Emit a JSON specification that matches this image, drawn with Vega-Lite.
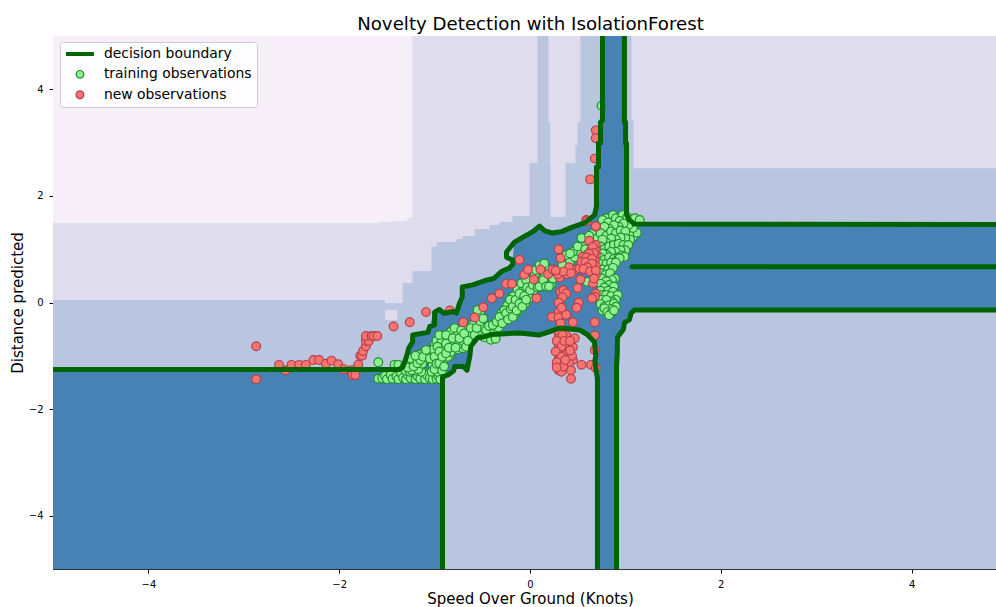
{"$schema":"https://vega.github.io/schema/vega-lite/v6.json","width":943,"height":533,"autosize":{"type":"none"},"padding":{"left":53,"top":36,"right":0,"bottom":38},"background":"white",
"config":{"font":"DejaVu Sans","view":{"stroke":"#333","strokeWidth":1},"axis":{"grid":false,"labelFont":"DejaVu Sans","titleFont":"DejaVu Sans","labelFontSize":10,"titleFontSize":15,"titleFontWeight":"normal","labelColor":"#000","titleColor":"#000","tickColor":"#000","domainColor":"#333","tickSize":4,"labelPadding":6,"labelFlush":false}},
"title":{"text":"Novelty Detection with IsolationForest","font":"DejaVu Sans","fontSize":18.2,"fontWeight":"normal","color":"#000","anchor":"middle","dx":6,"offset":2},
"datasets":{
"bg":[{"a":-5,"b":4.885,"c":5,"d":-5,"l":"base"},
{"a":-1.52,"b":-1.336,"c":0.05,"d":-0.01,"l":"lav"},{"a":-1.52,"b":-1.39,"c":-0.14,"d":-0.33,"l":"lav"},{"a":-5,"b":-1.336,"c":5,"d":0.047,"l":"lav"},{"a":-5,"b":-1.232,"c":5,"d":0.366,"l":"lav"},{"a":-5,"b":-1.033,"c":5,"d":0.59,"l":"lav"},{"a":-5,"b":-0.98,"c":5,"d":1.04,"l":"lav"},{"a":-5,"b":-0.77,"c":5,"d":1.134,"l":"lav"},{"a":-5,"b":-0.708,"c":5,"d":1.19,"l":"lav"},{"a":-5,"b":-0.582,"c":5,"d":1.246,"l":"lav"},{"a":-5,"b":-0.425,"c":5,"d":1.378,"l":"lav"},{"a":-5,"b":-0.32,"c":5,"d":1.453,"l":"lav"},{"a":-5,"b":-0.183,"c":5,"d":1.509,"l":"lav"},{"a":-5,"b":-0.005,"c":5,"d":1.621,"l":"lav"},{"a":-5,"b":0.079,"c":5,"d":2.615,"l":"lav"},{"a":0.194,"b":0.529,"c":5,"d":3.383,"l":"lav"},{"a":0.215,"b":0.498,"c":5,"d":2.952,"l":"lav"},{"a":0.215,"b":0.477,"c":5,"d":2.615,"l":"lav"},{"a":0.215,"b":0.372,"c":5,"d":1.603,"l":"lav"},{"a":1.064,"b":4.885,"c":5,"d":3.42,"l":"lav"},{"a":1.085,"b":4.885,"c":5,"d":2.521,"l":"lav"},
{"a":-5,"b":-1.232,"c":5,"d":1.584,"l":"pale"},{"a":-5,"b":-1.284,"c":5,"d":1.53,"l":"pale"},{"a":-5,"b":-1.42,"c":5,"d":1.509,"l":"pale"},{"a":-5,"b":-1.578,"c":5,"d":1.49,"l":"pale"}],
"blue":[{"x":-5,"t":-1.256,"u":-5},{"x":-1.37,"t":-1.256,"u":-5},{"x":-1.295,"t":-1.02,"u":-5},{"x":-1.23,"t":-0.61,"u":-5},{"x":-1.07,"t":-0.515,"u":-5},{"x":-1.0,"t":-0.18,"u":-5},{"x":-0.917,"t":-0.19,"u":-5},{"x":-0.917,"t":-0.19,"u":-1.396},{"x":-0.791,"t":-0.2,"u":-1.209},{"x":-0.77,"t":-0.2,"u":-1.21},{"x":-0.71,"t":0.29,"u":-1.24},{"x":-0.655,"t":0.33,"u":-1.265},{"x":-0.613,"t":0.36,"u":-0.834},{"x":-0.529,"t":0.38,"u":-0.647},{"x":-0.456,"t":0.42,"u":-0.62},{"x":-0.215,"t":0.647,"u":-0.58},{"x":-0.183,"t":0.797,"u":-0.575},{"x":-0.162,"t":1.134,"u":-0.572},{"x":0.1,"t":1.434,"u":-0.609},{"x":0.236,"t":1.303,"u":-0.52},{"x":0.309,"t":1.33,"u":-0.478},{"x":0.445,"t":1.415,"u":-0.5},{"x":0.519,"t":1.5,"u":-0.515},{"x":0.676,"t":1.64,"u":-0.74},{"x":0.697,"t":2.54,"u":-1.32},{"x":0.707,"t":2.8,"u":-1.827},{"x":0.707,"t":2.8,"u":-5},{"x":0.718,"t":2.99,"u":-5},{"x":0.739,"t":3.383,"u":-5},{"x":0.76,"t":5,"u":-5},{"x":0.907,"t":5,"u":-5},{"x":0.907,"t":5,"u":-1.209},{"x":0.917,"t":5,"u":-0.647},{"x":0.99,"t":5,"u":-0.384},{"x":0.99,"t":3.383,"u":-0.384},{"x":1.012,"t":2.99,"u":-0.3},{"x":1.012,"t":1.603,"u":-0.3},{"x":1.043,"t":1.55,"u":-0.234},{"x":1.096,"t":1.471,"u":-0.14},{"x":4.885,"t":1.462,"u":-0.14}],
"bd":[{"g":"a","x":-5,"y":-1.256},{"g":"a","x":-1.37,"y":-1.256},{"g":"a","x":-1.33,"y":-1.2},{"g":"a","x":-1.295,"y":-1.02},{"g":"a","x":-1.27,"y":-0.85},{"g":"a","x":-1.23,"y":-0.74},{"g":"a","x":-1.23,"y":-0.61},{"g":"a","x":-1.07,"y":-0.56},{"g":"a","x":-1.05,"y":-0.45},{"g":"a","x":-1.0,"y":-0.42},{"g":"a","x":-1.0,"y":-0.18},{"g":"a","x":-0.95,"y":-0.13},{"g":"a","x":-0.9,"y":-0.2},{"g":"a","x":-0.8,"y":-0.17},{"g":"a","x":-0.77,"y":-0.2},{"g":"a","x":-0.74,"y":-0.02},{"g":"a","x":-0.71,"y":0.1},{"g":"a","x":-0.71,"y":0.29},{"g":"a","x":-0.6,"y":0.33},{"g":"a","x":-0.456,"y":0.42},{"g":"a","x":-0.38,"y":0.45},{"g":"a","x":-0.3,"y":0.58},{"g":"a","x":-0.215,"y":0.647},{"g":"a","x":-0.18,"y":0.72},{"g":"a","x":-0.183,"y":0.797},{"g":"a","x":-0.246,"y":0.85},{"g":"a","x":-0.246,"y":0.947},{"g":"a","x":-0.2,"y":1.05},{"g":"a","x":-0.162,"y":1.134},{"g":"a","x":-0.05,"y":1.25},{"g":"a","x":0.03,"y":1.33},{"g":"a","x":0.1,"y":1.434},{"g":"a","x":0.15,"y":1.35},{"g":"a","x":0.236,"y":1.303},{"g":"a","x":0.33,"y":1.33},{"g":"a","x":0.445,"y":1.415},{"g":"a","x":0.58,"y":1.5},{"g":"a","x":0.676,"y":1.64},{"g":"a","x":0.697,"y":1.8},{"g":"a","x":0.697,"y":2.54},{"g":"a","x":0.718,"y":2.54},{"g":"a","x":0.718,"y":2.99},{"g":"a","x":0.739,"y":2.99},{"g":"a","x":0.739,"y":3.383},{"g":"a","x":0.76,"y":3.42},{"g":"a","x":0.76,"y":5},
{"g":"b","x":0.99,"y":5},{"g":"b","x":0.99,"y":3.383},{"g":"b","x":1.002,"y":3.38},{"g":"b","x":1.002,"y":2.99},{"g":"b","x":1.012,"y":2.99},{"g":"b","x":1.012,"y":1.65},{"g":"b","x":1.04,"y":1.55},{"g":"b","x":1.096,"y":1.471},{"g":"b","x":4.885,"y":1.462},
{"g":"c","x":4.885,"y":-0.14},{"g":"c","x":1.095,"y":-0.14},{"g":"c","x":1.06,"y":-0.2},{"g":"c","x":1.043,"y":-0.32},{"g":"c","x":0.99,"y":-0.38},{"g":"c","x":0.98,"y":-0.5},{"g":"c","x":0.917,"y":-0.65},{"g":"c","x":0.915,"y":-0.95},{"g":"c","x":0.907,"y":-1.209},{"g":"c","x":0.907,"y":-5},
{"g":"d","x":-0.917,"y":-5},{"g":"d","x":-0.917,"y":-1.396},{"g":"d","x":-0.86,"y":-1.36},{"g":"d","x":-0.8,"y":-1.28},{"g":"d","x":-0.79,"y":-1.2},{"g":"d","x":-0.7,"y":-1.2},{"g":"d","x":-0.66,"y":-1.27},{"g":"d","x":-0.63,"y":-1.0},{"g":"d","x":-0.62,"y":-0.82},{"g":"d","x":-0.55,"y":-0.66},{"g":"d","x":-0.5,"y":-0.65},{"g":"d","x":-0.4,"y":-0.6},{"g":"d","x":-0.11,"y":-0.572},{"g":"d","x":0.1,"y":-0.609},{"g":"d","x":0.2,"y":-0.55},{"g":"d","x":0.309,"y":-0.478},{"g":"d","x":0.519,"y":-0.515},{"g":"d","x":0.6,"y":-0.6},{"g":"d","x":0.676,"y":-0.74},{"g":"d","x":0.69,"y":-1.0},{"g":"d","x":0.68,"y":-1.1},{"g":"d","x":0.697,"y":-1.32},{"g":"d","x":0.707,"y":-1.42},{"g":"d","x":0.707,"y":-5},
{"g":"e","x":1.07,"y":0.671},{"g":"e","x":4.885,"y":0.671}],
"pts":[
{"s":"training observations","x":-1.59,"y":-1.43},{"s":"training observations","x":-1.59,"y":-1.12},{"s":"training observations","x":-1.55,"y":-1.42},{"s":"training observations","x":-1.52,"y":-1.38},{"s":"training observations","x":-1.5,"y":-1.44},{"s":"training observations","x":-1.46,"y":-1.36},{"s":"training observations","x":-1.44,"y":-1.43},{"s":"training observations","x":-1.42,"y":-1.17},{"s":"training observations","x":-1.38,"y":-1.17},{"s":"training observations","x":-1.4,"y":-1.39},{"s":"training observations","x":-1.38,"y":-1.44},{"s":"training observations","x":-1.35,"y":-1.33},{"s":"training observations","x":-1.33,"y":-1.41},{"s":"training observations","x":-1.3,"y":-1.44},{"s":"training observations","x":-1.28,"y":-1.36},{"s":"training observations","x":-1.25,"y":-1.42},{"s":"training observations","x":-1.22,"y":-1.32},{"s":"training observations","x":-1.2,"y":-1.44},{"s":"training observations","x":-1.18,"y":-1.38},{"s":"training observations","x":-1.15,"y":-1.43},{"s":"training observations","x":-1.12,"y":-1.3},{"s":"training observations","x":-1.1,"y":-1.44},{"s":"training observations","x":-1.08,"y":-1.36},{"s":"training observations","x":-1.05,"y":-1.42},{"s":"training observations","x":-1.02,"y":-1.44},{"s":"training observations","x":-1.0,"y":-1.32},{"s":"training observations","x":-0.98,"y":-1.43},{"s":"training observations","x":-0.96,"y":-1.38},{"s":"training observations","x":-0.94,"y":-1.44},
{"s":"training observations","x":-1.3,"y":-1.28},{"s":"training observations","x":-1.31,"y":-1.18},{"s":"training observations","x":-1.26,"y":-1.3},{"s":"training observations","x":-1.24,"y":-1.17},{"s":"training observations","x":-1.21,"y":-1.1},{"s":"training observations","x":-1.19,"y":-1.28},{"s":"training observations","x":-1.16,"y":-1.2},{"s":"training observations","x":-1.14,"y":-1.3},{"s":"training observations","x":-1.14,"y":-0.95},{"s":"training observations","x":-1.11,"y":-1.1},{"s":"training observations","x":-1.07,"y":-0.93},{"s":"training observations","x":-1.02,"y":-1.17},{"s":"training observations","x":-1.02,"y":-0.98},{"s":"training observations","x":-1.0,"y":-0.8},{"s":"training observations","x":-0.98,"y":-0.72},{"s":"training observations","x":-0.96,"y":-1.02},{"s":"training observations","x":-0.94,"y":-1.22},{"s":"training observations","x":-0.9,"y":-0.72},{"s":"training observations","x":-0.9,"y":-1.08},{"s":"training observations","x":-0.87,"y":-0.88},{"s":"training observations","x":-0.84,"y":-0.68},{"s":"training observations","x":-0.84,"y":-1.0},{"s":"training observations","x":-0.82,"y":-0.84},{"s":"training observations","x":-0.78,"y":-0.63},{"s":"training observations","x":-0.76,"y":-0.88},{"s":"training observations","x":-0.73,"y":-0.8},{"s":"training observations","x":-0.71,"y":-0.62},{"s":"training observations","x":-0.7,"y":-0.86},{"s":"training observations","x":-0.66,"y":-0.6},{"s":"training observations","x":-0.64,"y":-0.52},{"s":"training observations","x":-0.6,"y":-0.55},{"s":"training observations","x":-0.56,"y":-0.58},{"s":"training observations","x":-0.53,"y":-0.25},{"s":"training observations","x":-0.51,"y":-0.56},{"s":"training observations","x":-0.45,"y":-0.62},{"s":"training observations","x":-0.37,"y":-0.55},{"s":"training observations","x":-0.28,"y":-0.25},{"s":"training observations","x":-0.22,"y":-0.1},{"s":"training observations","x":-0.22,"y":-0.25},{"s":"training observations","x":-0.19,"y":0.1},{"s":"training observations","x":-0.16,"y":0.0},{"s":"training observations","x":-0.14,"y":0.1},{"s":"training observations","x":-0.13,"y":-0.18},{"s":"training observations","x":-0.1,"y":0.27},{"s":"training observations","x":-0.07,"y":0.1},{"s":"training observations","x":-0.05,"y":-0.02},{"s":"training observations","x":-0.05,"y":0.35},{"s":"training observations","x":-0.01,"y":0.08},{"s":"training observations","x":0.03,"y":0.45},{"s":"training observations","x":0.06,"y":0.36},{"s":"training observations","x":0.11,"y":0.5},{"s":"training observations","x":0.12,"y":0.36},{"s":"training observations","x":0.14,"y":0.62},{"s":"training observations","x":0.17,"y":0.4},{"s":"training observations","x":0.16,"y":0.68},
{"s":"training observations","x":1.06,"y":1.32},{"s":"training observations","x":1.08,"y":1.23},{"s":"training observations","x":1.02,"y":1.4},{"s":"training observations","x":1.0,"y":1.5},{"s":"training observations","x":0.96,"y":1.58},{"s":"training observations","x":0.92,"y":1.5},{"s":"training observations","x":0.86,"y":1.52},{"s":"training observations","x":0.8,"y":1.58},{"s":"training observations","x":0.78,"y":1.3},{"s":"training observations","x":0.82,"y":1.18},{"s":"training observations","x":0.88,"y":1.25},{"s":"training observations","x":0.92,"y":1.26},{"s":"training observations","x":0.97,"y":1.28},{"s":"training observations","x":1.02,"y":1.13},{"s":"training observations","x":0.97,"y":1.03},{"s":"training observations","x":0.91,"y":1.02},{"s":"training observations","x":0.86,"y":1.0},{"s":"training observations","x":0.81,"y":0.98},{"s":"training observations","x":0.9,"y":0.88},{"s":"training observations","x":0.86,"y":0.7},{"s":"training observations","x":0.78,"y":0.67},{"s":"training observations","x":0.83,"y":0.47},{"s":"training observations","x":0.76,"y":0.33},{"s":"training observations","x":0.85,"y":0.27},{"s":"training observations","x":0.78,"y":0.18},{"s":"training observations","x":0.84,"y":0.18},{"s":"training observations","x":0.82,"y":0.08},{"s":"training observations","x":0.88,"y":0.08},{"s":"training observations","x":0.8,"y":-0.02},{"s":"training observations","x":0.76,"y":-0.15},{"s":"training observations","x":0.86,"y":-0.06},
{"s":"training observations","x":-1.27,"y":-1.12},{"s":"training observations","x":-1.24,"y":-1.27},{"s":"training observations","x":-1.17,"y":-1.25},{"s":"training observations","x":-1.16,"y":-0.98},{"s":"training observations","x":-1.13,"y":-1.15},{"s":"training observations","x":-1.1,"y":-0.98},{"s":"training observations","x":-1.04,"y":-0.94},{"s":"training observations","x":-1.03,"y":-1.3},{"s":"training observations","x":-1.01,"y":-0.88},{"s":"training observations","x":-0.99,"y":-1.08},{"s":"training observations","x":-0.97,"y":-1.3},{"s":"training observations","x":-0.93,"y":-0.75},{"s":"training observations","x":-0.91,"y":-0.88},{"s":"training observations","x":-0.91,"y":-1.12},{"s":"training observations","x":-0.86,"y":-1.02},{"s":"training observations","x":-0.86,"y":-0.7},{"s":"training observations","x":-0.83,"y":-0.93},{"s":"training observations","x":-0.83,"y":-0.55},{"s":"training observations","x":-0.8,"y":-0.76},{"s":"training observations","x":-0.76,"y":-0.58},{"s":"training observations","x":-0.75,"y":-0.78},{"s":"training observations","x":-0.7,"y":-0.72},{"s":"training observations","x":-0.67,"y":-0.5},{"s":"training observations","x":-0.63,"y":-0.62},{"s":"training observations","x":-0.6,"y":-0.42},{"s":"training observations","x":-0.54,"y":-0.55},{"s":"training observations","x":-0.52,"y":-0.2},{"s":"training observations","x":-0.5,"y":-0.47},{"s":"training observations","x":-0.48,"y":-0.65},{"s":"training observations","x":-0.42,"y":-0.58},{"s":"training observations","x":-0.33,"y":-0.47},{"s":"training observations","x":-0.3,"y":-0.2},{"s":"training observations","x":-0.26,"y":-0.3},{"s":"training observations","x":-0.24,"y":-0.06},{"s":"training observations","x":-0.17,"y":0.12},{"s":"training observations","x":-0.16,"y":-0.22},{"s":"training observations","x":-0.13,"y":0.25},{"s":"training observations","x":-0.12,"y":-0.1},{"s":"training observations","x":-0.09,"y":0.03},{"s":"training observations","x":-0.07,"y":0.22},{"s":"training observations","x":-0.07,"y":0.3},{"s":"training observations","x":-0.02,"y":0.14},{"s":"training observations","x":-0.02,"y":0.34},{"s":"training observations","x":0.01,"y":0.42},{"s":"training observations","x":0.02,"y":0.27},{"s":"training observations","x":0.04,"y":0.23},{"s":"training observations","x":0.07,"y":0.45},{"s":"training observations","x":0.09,"y":0.38},{"s":"training observations","x":0.12,"y":0.6},{"s":"training observations","x":0.13,"y":0.3},{"s":"training observations","x":0.16,"y":0.5},{"s":"training observations","x":0.19,"y":0.42},{"s":"training observations","x":0.22,"y":0.33},{"s":"training observations","x":0.42,"y":0.78},{"s":"training observations","x":0.47,"y":0.85},{"s":"training observations","x":0.52,"y":0.95},{"s":"training observations","x":0.57,"y":1.1},{"s":"training observations","x":0.65,"y":1.2},{"s":"training observations","x":0.63,"y":1.05},
{"s":"training observations","x":-1.25,"y":-1.05},{"s":"training observations","x":-1.28,"y":-1.22},{"s":"training observations","x":-1.22,"y":-1.2},{"s":"training observations","x":-1.18,"y":-1.14},{"s":"training observations","x":-1.15,"y":-1.08},{"s":"training observations","x":-1.2,"y":-1.0},{"s":"training observations","x":-1.12,"y":-1.02},{"s":"training observations","x":-1.09,"y":-0.89},{"s":"training observations","x":-1.05,"y":-1.05},{"s":"training observations","x":-1.0,"y":-1.02},{"s":"training observations","x":-1.0,"y":-1.25},{"s":"training observations","x":-0.98,"y":-1.15},{"s":"training observations","x":-0.97,"y":-0.83},{"s":"training observations","x":-0.95,"y":-1.14},{"s":"training observations","x":-0.95,"y":-0.92},{"s":"training observations","x":-0.92,"y":-1.28},{"s":"training observations","x":-0.92,"y":-1.02},{"s":"training observations","x":-0.9,"y":-1.2},{"s":"training observations","x":-0.88,"y":-0.77},{"s":"training observations","x":-0.88,"y":-0.95},{"s":"training observations","x":-0.95,"y":-0.61},{"s":"training observations","x":-0.88,"y":-0.61},{"s":"training observations","x":-0.85,"y":-0.85},{"s":"training observations","x":-0.81,"y":-0.67},{"s":"training observations","x":-0.79,"y":-0.48},{"s":"training observations","x":-0.78,"y":-0.85},{"s":"training observations","x":-0.74,"y":-0.67},{"s":"training observations","x":-0.72,"y":-0.52},{"s":"training observations","x":-0.69,"y":-0.58},{"s":"training observations","x":-0.67,"y":-0.83},{"s":"training observations","x":-0.65,"y":-0.72},{"s":"training observations","x":-0.62,"y":-0.48},{"s":"training observations","x":-0.58,"y":-0.61},{"s":"training observations","x":-0.56,"y":-0.48},{"s":"training observations","x":-0.55,"y":-0.14},{"s":"training observations","x":-0.52,"y":-0.35},{"s":"training observations","x":-0.49,"y":-0.3},{"s":"training observations","x":-0.46,"y":-0.52},{"s":"training observations","x":-0.43,"y":-0.44},{"s":"training observations","x":-0.41,"y":-0.7},{"s":"training observations","x":-0.39,"y":-0.42},{"s":"training observations","x":-0.36,"y":-0.68},{"s":"training observations","x":-0.35,"y":-0.36},
{"s":"training observations","x":-0.32,"y":-0.27},{"s":"training observations","x":-0.29,"y":-0.39},{"s":"training observations","x":-0.27,"y":-0.15},{"s":"training observations","x":-0.25,"y":-0.2},{"s":"training observations","x":-0.23,"y":-0.32},{"s":"training observations","x":-0.21,"y":0.05},{"s":"training observations","x":-0.2,"y":-0.12},{"s":"training observations","x":-0.18,"y":-0.08},{"s":"training observations","x":-0.18,"y":-0.27},{"s":"training observations","x":-0.15,"y":0.05},{"s":"training observations","x":-0.14,"y":-0.15},{"s":"training observations","x":-0.11,"y":0.17},{"s":"training observations","x":-0.11,"y":-0.02},{"s":"training observations","x":-0.09,"y":0.36},{"s":"training observations","x":-0.08,"y":-0.08},{"s":"training observations","x":-0.06,"y":0.12},{"s":"training observations","x":-0.04,"y":0.05},{"s":"training observations","x":-0.04,"y":0.42},{"s":"training observations","x":-0.03,"y":0.28},{"s":"training observations","x":0,"y":0.23},{"s":"training observations","x":0.03,"y":0.33},{"s":"training observations","x":0.05,"y":0.52},{"s":"training observations","x":0.06,"y":0.61},{"s":"training observations","x":0.08,"y":0.28},{"s":"training observations","x":0.1,"y":0.7},{"s":"training observations","x":0.1,"y":0.3},{"s":"training observations","x":0.14,"y":0.42},{"s":"training observations","x":0.15,"y":0.73},{"s":"training observations","x":0.17,"y":0.3},{"s":"training observations","x":0.2,"y":0.3},{"s":"training observations","x":0.24,"y":0.45},{"s":"training observations","x":0.34,"y":0.7},{"s":"training observations","x":0.38,"y":0.89},{"s":"training observations","x":0.45,"y":0.95},{"s":"training observations","x":0.5,"y":1.05},{"s":"training observations","x":0.55,"y":1.2},{"s":"training observations","x":0.6,"y":0.39},
{"s":"training observations","x":0.54,"y":1.21},{"s":"training observations","x":0.58,"y":1.0},{"s":"training observations","x":0.66,"y":1.3},{"s":"training observations","x":0.71,"y":1.21},{"s":"training observations","x":0.62,"y":1.25},{"s":"training observations","x":0.42,"y":0.92},{"s":"training observations","x":0.6,"y":0.9},
{"s":"training observations","x":0.87,"y":1.64},{"s":"training observations","x":0.76,"y":1.55},{"s":"training observations","x":0.82,"y":1.5},{"s":"training observations","x":0.9,"y":1.58},{"s":"training observations","x":0.97,"y":1.64},{"s":"training observations","x":0.94,"y":1.53},{"s":"training observations","x":1.02,"y":1.6},{"s":"training observations","x":1.07,"y":1.56},{"s":"training observations","x":1.1,"y":1.58},{"s":"training observations","x":1.15,"y":1.55},{"s":"training observations","x":1.12,"y":1.31},{"s":"training observations","x":1.04,"y":1.27},{"s":"training observations","x":1.08,"y":1.4},{"s":"training observations","x":1.03,"y":1.45},{"s":"training observations","x":0.98,"y":1.48},{"s":"training observations","x":0.93,"y":1.42},{"s":"training observations","x":0.88,"y":1.45},{"s":"training observations","x":0.83,"y":1.38},{"s":"training observations","x":0.78,"y":1.42},{"s":"training observations","x":0.74,"y":1.3},{"s":"training observations","x":0.8,"y":1.25},{"s":"training observations","x":0.85,"y":1.33},{"s":"training observations","x":0.9,"y":1.3},{"s":"training observations","x":0.95,"y":1.35},{"s":"training observations","x":1.0,"y":1.33},{"s":"training observations","x":1.05,"y":1.18},{"s":"training observations","x":1.0,"y":1.2},{"s":"training observations","x":0.95,"y":1.22},{"s":"training observations","x":0.9,"y":1.18},{"s":"training observations","x":0.85,"y":1.2},{"s":"training observations","x":0.8,"y":1.12},{"s":"training observations","x":0.76,"y":1.18},{"s":"training observations","x":0.74,"y":1.05},{"s":"training observations","x":0.78,"y":1.0},{"s":"training observations","x":0.83,"y":1.05},{"s":"training observations","x":0.88,"y":1.08},{"s":"training observations","x":0.93,"y":1.1},{"s":"training observations","x":0.98,"y":1.08},{"s":"training observations","x":1.03,"y":1.08},{"s":"training observations","x":1.0,"y":0.98},{"s":"training observations","x":0.95,"y":0.98},{"s":"training observations","x":0.9,"y":0.95},{"s":"training observations","x":0.85,"y":0.95},{"s":"training observations","x":0.8,"y":0.9},{"s":"training observations","x":0.76,"y":0.92},{"s":"training observations","x":0.73,"y":0.85},{"s":"training observations","x":0.78,"y":0.8},{"s":"training observations","x":0.83,"y":0.85},{"s":"training observations","x":0.88,"y":0.82},{"s":"training observations","x":0.93,"y":0.85},{"s":"training observations","x":0.97,"y":0.88},{"s":"training observations","x":0.99,"y":0.86},{"s":"training observations","x":0.94,"y":0.83},
{"s":"training observations","x":0.75,"y":0.72},{"s":"training observations","x":0.8,"y":0.72},{"s":"training observations","x":0.85,"y":0.75},{"s":"training observations","x":0.9,"y":0.75},{"s":"training observations","x":0.76,"y":0.62},{"s":"training observations","x":0.82,"y":0.62},{"s":"training observations","x":0.87,"y":0.65},{"s":"training observations","x":0.74,"y":0.55},{"s":"training observations","x":0.79,"y":0.52},{"s":"training observations","x":0.84,"y":0.55},{"s":"training observations","x":0.89,"y":0.45},{"s":"training observations","x":0.86,"y":0.42},{"s":"training observations","x":0.75,"y":0.45},{"s":"training observations","x":0.8,"y":0.4},{"s":"training observations","x":0.74,"y":0.35},{"s":"training observations","x":0.83,"y":0.33},{"s":"training observations","x":0.88,"y":0.3},{"s":"training observations","x":0.78,"y":0.28},{"s":"training observations","x":0.74,"y":0.22},{"s":"training observations","x":0.82,"y":0.22},{"s":"training observations","x":0.87,"y":0.2},{"s":"training observations","x":0.76,"y":0.14},{"s":"training observations","x":0.8,"y":0.14},{"s":"training observations","x":0.85,"y":0.12},{"s":"training observations","x":0.92,"y":0.14},{"s":"training observations","x":0.9,"y":0.05},{"s":"training observations","x":0.86,"y":0.02},{"s":"training observations","x":0.75,"y":0.05},{"s":"training observations","x":0.8,"y":0.05},{"s":"training observations","x":0.74,"y":-0.03},{"s":"training observations","x":0.78,"y":-0.08},{"s":"training observations","x":0.83,"y":-0.05},{"s":"training observations","x":0.88,"y":-0.02},{"s":"training observations","x":0.9,"y":-0.08},{"s":"training observations","x":0.85,"y":-0.12},{"s":"training observations","x":0.78,"y":-0.11},{"s":"training observations","x":0.81,"y":-0.18},{"s":"training observations","x":0.85,"y":-0.2},{"s":"training observations","x":0.83,"y":-0.24},{"s":"training observations","x":0.88,"y":-0.15},{"s":"training observations","x":0.75,"y":3.69},
{"s":"new observations","x":-2.87,"y":-0.82},{"s":"new observations","x":-2.87,"y":-1.44},{"s":"new observations","x":-2.63,"y":-1.17},{"s":"new observations","x":-2.56,"y":-1.27},{"s":"new observations","x":-2.5,"y":-1.17},{"s":"new observations","x":-2.42,"y":-1.17},{"s":"new observations","x":-2.35,"y":-1.17},{"s":"new observations","x":-2.27,"y":-1.08},{"s":"new observations","x":-2.21,"y":-1.08},{"s":"new observations","x":-2.14,"y":-1.15},{"s":"new observations","x":-2.08,"y":-1.09},{"s":"new observations","x":-2.01,"y":-1.16},{"s":"new observations","x":-1.95,"y":-1.25},{"s":"new observations","x":-1.87,"y":-1.27},{"s":"new observations","x":-1.86,"y":-1.36},{"s":"new observations","x":-1.83,"y":-1.36},{"s":"new observations","x":-1.8,"y":-1.17},{"s":"new observations","x":-1.78,"y":-1.0},{"s":"new observations","x":-1.76,"y":-1.0},{"s":"new observations","x":-1.75,"y":-0.91},{"s":"new observations","x":-1.72,"y":-0.82},{"s":"new observations","x":-1.72,"y":-0.72},{"s":"new observations","x":-1.69,"y":-0.72},{"s":"new observations","x":-1.72,"y":-0.63},{"s":"new observations","x":-1.66,"y":-0.63},{"s":"new observations","x":-1.64,"y":-0.63},{"s":"new observations","x":-1.6,"y":-0.63},{"s":"new observations","x":-1.43,"y":-0.45},{"s":"new observations","x":-1.26,"y":-0.37},{"s":"new observations","x":-1.09,"y":-0.18},{"s":"new observations","x":-0.84,"y":-0.15},{"s":"new observations","x":-0.7,"y":-0.37},{"s":"new observations","x":-0.58,"y":-0.28},{"s":"new observations","x":-0.49,"y":-0.09},{"s":"new observations","x":-0.4,"y":0.08},{"s":"new observations","x":-0.32,"y":0.17},{"s":"new observations","x":-0.25,"y":0.35},{"s":"new observations","x":-0.19,"y":0.35},{"s":"new observations","x":-0.11,"y":0.8},{"s":"new observations","x":-0.06,"y":0.52},{"s":"new observations","x":-0.02,"y":0.62},{"s":"new observations","x":0.04,"y":0.43},{"s":"new observations","x":0.07,"y":0.08},{"s":"new observations","x":0.11,"y":0.62},{"s":"new observations","x":0.19,"y":0.53},{"s":"new observations","x":0.24,"y":0.62},{"s":"new observations","x":0.3,"y":1.0},{"s":"new observations","x":0.32,"y":0.83},{"s":"new observations","x":0.31,"y":0.47},{"s":"new observations","x":0.29,"y":0.53},{"s":"new observations","x":0.39,"y":0.53},{"s":"new observations","x":0.45,"y":0.6},{"s":"new observations","x":0.48,"y":0.62},{"s":"new observations","x":0.52,"y":0.64},{"s":"new observations","x":0.53,"y":0.43},{"s":"new observations","x":0.5,"y":0.27},{"s":"new observations","x":0.57,"y":0.7},{"s":"new observations","x":0.55,"y":0.86},{"s":"new observations","x":0.54,"y":0.77},{"s":"new observations","x":0.69,"y":1.42},{"s":"new observations","x":0.62,"y":1.16},{"s":"new observations","x":0.59,"y":1.55},{"s":"new observations","x":0.69,"y":1.08},{"s":"new observations","x":0.64,"y":0.98},{"s":"new observations","x":0.69,"y":0.98},{"s":"new observations","x":0.64,"y":0.89},{"s":"new observations","x":0.69,"y":0.89},{"s":"new observations","x":0.61,"y":0.8},{"s":"new observations","x":0.68,"y":0.78},{"s":"new observations","x":0.62,"y":0.7},{"s":"new observations","x":0.69,"y":0.68},{"s":"new observations","x":0.66,"y":0.61},{"s":"new observations","x":0.69,"y":0.52},{"s":"new observations","x":0.66,"y":0.36},{"s":"new observations","x":0.69,"y":0.17},{"s":"new observations","x":0.68,"y":0.11},{"s":"new observations","x":0.65,"y":0.08},{"s":"new observations","x":0.32,"y":0.2},{"s":"new observations","x":0.35,"y":0.23},{"s":"new observations","x":0.38,"y":0.17},{"s":"new observations","x":0.34,"y":0.1},{"s":"new observations","x":0.3,"y":0},{"s":"new observations","x":0.51,"y":0},{"s":"new observations","x":0.49,"y":-0.1},{"s":"new observations","x":0.3,"y":-0.18},{"s":"new observations","x":0.23,"y":-0.27},{"s":"new observations","x":0.3,"y":-0.28},{"s":"new observations","x":0.38,"y":-0.23},{"s":"new observations","x":0.32,"y":-0.39},{"s":"new observations","x":0.45,"y":-0.37},{"s":"new observations","x":0.68,"y":-0.37},{"s":"new observations","x":0.68,"y":-0.62},{"s":"new observations","x":0.3,"y":-0.58},{"s":"new observations","x":0.3,"y":-0.67},{"s":"new observations","x":0.3,"y":-0.77},{"s":"new observations","x":0.3,"y":-0.86},{"s":"new observations","x":0.3,"y":-0.97},{"s":"new observations","x":0.3,"y":-1.07},{"s":"new observations","x":0.31,"y":-1.17},{"s":"new observations","x":0.3,"y":-1.27},{"s":"new observations","x":0.33,"y":-1.3},{"s":"new observations","x":0.38,"y":-0.61},{"s":"new observations","x":0.34,"y":-0.61},{"s":"new observations","x":0.47,"y":-0.67},{"s":"new observations","x":0.38,"y":-0.8},{"s":"new observations","x":0.45,"y":-0.84},{"s":"new observations","x":0.38,"y":-0.98},{"s":"new observations","x":0.41,"y":-1.01},{"s":"new observations","x":0.45,"y":-1.08},{"s":"new observations","x":0.41,"y":-1.14},{"s":"new observations","x":0.43,"y":-1.27},{"s":"new observations","x":0.43,"y":-1.43},{"s":"new observations","x":0.54,"y":-1.17},{"s":"new observations","x":0.64,"y":-1.17},{"s":"new observations","x":0.68,"y":-0.89},{"s":"new observations","x":0.69,"y":-1.23},{"s":"new observations","x":0.69,"y":3.23},{"s":"new observations","x":0.69,"y":3.08},{"s":"new observations","x":0.68,"y":2.7},{"s":"new observations","x":0.63,"y":2.31},{"s":"new observations","x":0.6,"y":1.53},{"s":"new observations","x":0.69,"y":1.43},
{"s":"new observations","x":0.66,"y":1.04},{"s":"new observations","x":0.67,"y":0.93},{"s":"new observations","x":0.62,"y":0.92},{"s":"new observations","x":0.59,"y":0.85},{"s":"new observations","x":0.65,"y":0.82},{"s":"new observations","x":0.58,"y":0.76},{"s":"new observations","x":0.65,"y":0.73},{"s":"new observations","x":0.6,"y":0.66},{"s":"new observations","x":0.56,"y":0.63},{"s":"new observations","x":0.63,"y":0.58},{"s":"new observations","x":0.69,"y":0.6},{"s":"new observations","x":0.67,"y":0.45},{"s":"new observations","x":0.41,"y":0.66},{"s":"new observations","x":0.35,"y":0.58},{"s":"new observations","x":0.27,"y":0.6},{"s":"new observations","x":0.43,"y":0.55},{"s":"new observations","x":0.33,"y":-0.1},{"s":"new observations","x":0.28,"y":-0.72},{"s":"new observations","x":0.33,"y":-0.82},{"s":"new observations","x":0.27,"y":-0.92},{"s":"new observations","x":0.33,"y":-1.02},{"s":"new observations","x":0.28,"y":-1.12},{"s":"new observations","x":0.36,"y":-0.72},{"s":"new observations","x":0.42,"y":-0.72},{"s":"new observations","x":0.44,"y":-1.0},{"s":"new observations","x":0.35,"y":-1.2},{"s":"new observations","x":0.37,"y":-1.08},{"s":"new observations","x":0.28,"y":-1.22},{"s":"new observations","x":0.42,"y":-0.9}]},
"layer":[
{"data":{"name":"bg"},"mark":{"type":"rect"},"encoding":{"x":{"field":"a","type":"quantitative","scale":{"domain":[-5,4.885],"nice":false,"zero":false},"axis":{"values":[-4,-2,0,2,4],"title":"Speed Over Ground (Knots)","titleX":477,"titlePadding":2,"format":"d"}},"x2":{"field":"b"},"y":{"field":"c","type":"quantitative","scale":{"domain":[-5,5],"nice":false,"zero":false},"axis":{"values":[-4,-2,0,2,4],"title":"Distance predicted","titlePadding":3,"format":"d"}},"y2":{"field":"d"},"color":{"field":"l","type":"nominal","scale":{"domain":["base","lav","pale"],"range":["#bac6e0","#dedced","#f6eff7"]},"legend":null}}},
{"data":{"name":"blue"},"mark":{"type":"area","color":"#4682b4","clip":true},"encoding":{"x":{"field":"x","type":"quantitative"},"y":{"field":"t","type":"quantitative"},"y2":{"field":"u"},"order":{"value":null}}},
{"data":{"name":"pts"},"mark":{"type":"point","filled":true,"size":76,"strokeWidth":1.2,"opacity":1},"encoding":{"x":{"field":"x","type":"quantitative"},"y":{"field":"y","type":"quantitative"},
"fill":{"field":"s","type":"nominal","scale":{"domain":["decision boundary","training observations","new observations"],"range":["#006400","#90f090","#fb7570"]},"legend":{"title":null,"orient":"none","legendX":7,"legendY":6,"fillColor":"rgba(255,255,255,0.8)","strokeColor":"#ccc","cornerRadius":3,"padding":5,"symbolSize":60,"symbolStrokeWidth":1.2,"labelFont":"DejaVu Sans","labelFontSize":13.9,"labelColor":"#000","labelOffset":17,"rowPadding":5.4,"symbolOffset":8}},
"stroke":{"field":"s","type":"nominal","scale":{"domain":["decision boundary","training observations","new observations"],"range":["#006400","#1e9030","#b4404f"]},"legend":{"title":null,"orient":"none","legendX":7,"legendY":6,"fillColor":"rgba(255,255,255,0.8)","strokeColor":"#ccc","cornerRadius":3,"padding":5,"symbolSize":60,"symbolStrokeWidth":1.2,"labelFont":"DejaVu Sans","labelFontSize":13.9,"labelColor":"#000","labelOffset":17,"rowPadding":5.4,"symbolOffset":8}},
"shape":{"field":"s","type":"nominal","scale":{"domain":["decision boundary","training observations","new observations"],"range":["M-3.45,-0.36H3.45V0.36H-3.45Z","circle","circle"]},"legend":{"title":null,"orient":"none","legendX":7,"legendY":6,"fillColor":"rgba(255,255,255,0.8)","strokeColor":"#ccc","cornerRadius":3,"padding":5,"symbolSize":60,"symbolStrokeWidth":1.2,"labelFont":"DejaVu Sans","labelFontSize":13.9,"labelColor":"#000","labelOffset":17,"rowPadding":5.4,"symbolOffset":8}}}},
{"data":{"name":"bd"},"mark":{"type":"line","color":"#006400","strokeWidth":5,"strokeCap":"round","strokeJoin":"round","clip":true},"encoding":{"x":{"field":"x","type":"quantitative"},"y":{"field":"y","type":"quantitative"},"detail":{"field":"g","type":"nominal"},"order":{"value":null}}}
]}
